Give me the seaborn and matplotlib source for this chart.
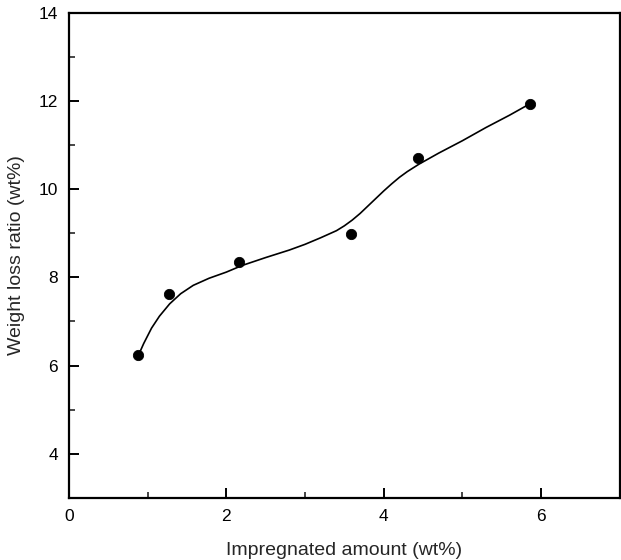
import numpy as np
import pandas as pd
import matplotlib
matplotlib.use("Agg")
import matplotlib.pyplot as plt
import seaborn as sns
from matplotlib.ticker import MultipleLocator

# measured points
amount = [0.88, 1.27, 2.16, 3.58, 4.43, 5.86]
weight_loss = [6.23, 7.63, 8.36, 8.99, 10.71, 11.94]

# smooth curve
curve_x = [0.88, 0.95, 1.05, 1.15, 1.28, 1.42, 1.58, 1.78, 2.0, 2.2, 2.5,
           2.8, 3.0, 3.2, 3.4, 3.5, 3.6, 3.7, 3.8, 3.9, 4.0, 4.1, 4.2, 4.3,
           4.45, 4.7, 5.0, 5.3, 5.6, 5.86]
curve_y = [6.22, 6.50, 6.85, 7.12, 7.40, 7.63, 7.82, 7.98, 8.12, 8.27, 8.45,
           8.62, 8.75, 8.90, 9.06, 9.17, 9.30, 9.45, 9.62, 9.79, 9.96, 10.12,
           10.27, 10.40, 10.57, 10.82, 11.10, 11.40, 11.68, 11.94]

sns.set_style("ticks")
plt.rcParams["font.family"] = ["Liberation Sans", "DejaVu Sans"]

fig = plt.figure(figsize=(6.21, 5.60), dpi=100)
ax = fig.add_axes([0.111, 0.111, 0.887, 0.866])

df_pts = pd.DataFrame({"x": amount, "y": weight_loss})
df_curve = pd.DataFrame({"x": curve_x, "y": curve_y})

sns.lineplot(data=df_curve, x="x", y="y", ax=ax, color="black", lw=1.2, sort=False)
sns.scatterplot(data=df_pts, x="x", y="y", ax=ax, color="black", s=55,
                edgecolor="black", zorder=3)

ax.set_xlim(0, 7)
ax.set_ylim(3, 14)
ax.xaxis.set_major_locator(MultipleLocator(2))
ax.xaxis.set_minor_locator(MultipleLocator(1))
ax.yaxis.set_minor_locator(MultipleLocator(1))
ax.set_yticks([4, 6, 8, 10, 12, 14])
ax.tick_params(which="major", direction="in", length=7, width=1.4, labelsize=12.5,
               colors="black", pad=8)
ax.tick_params(which="minor", direction="in", length=4, width=1.2)
for sp in ax.spines.values():
    sp.set_linewidth(1.6)
    sp.set_color("black")

ax.set_xlabel("Impregnated amount (wt%)", fontsize=14, labelpad=13)
ax.set_ylabel("Weight loss ratio (wt%)", fontsize=14, labelpad=10)

fig.savefig("out.png", dpi=100)
